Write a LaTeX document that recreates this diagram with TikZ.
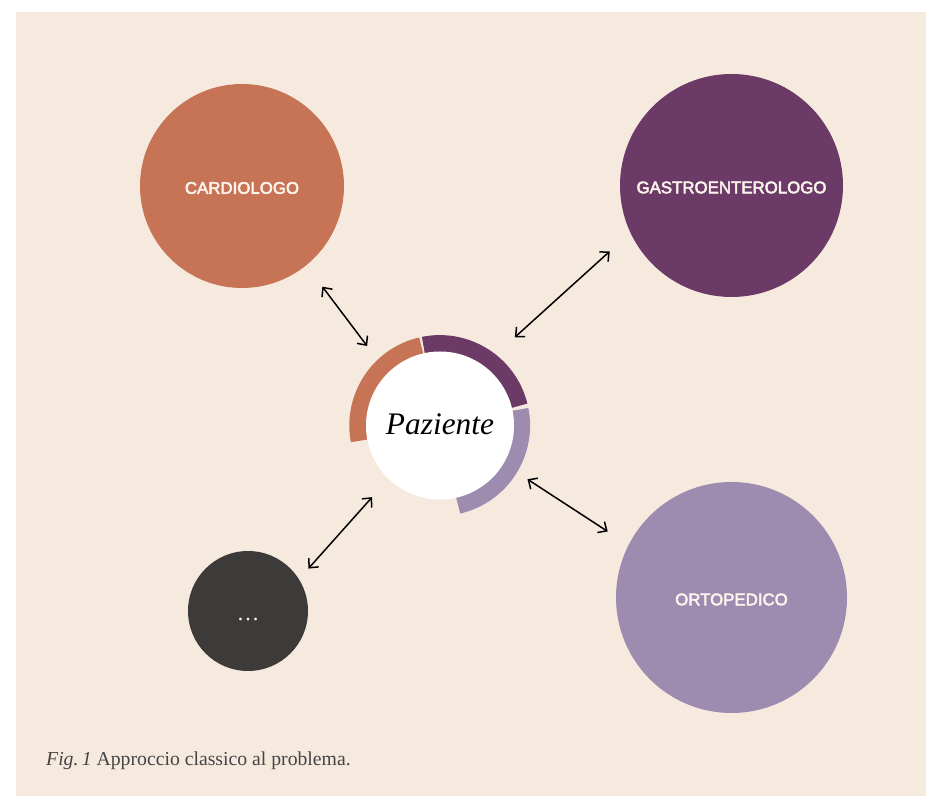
\documentclass[tikz,border=0pt]{standalone}
\usepackage{fontspec}
\usetikzlibrary{arrows.meta}
\setmainfont{Liberation Serif}
\newfontfamily\labfont[FakeBold=3]{Liberation Sans}
\newfontfamily\dotfont[LetterSpace=11.5,FakeBold=2]{Liberation Sans}
\definecolor{panelc}{HTML}{F6EADF}
\definecolor{cardc}{HTML}{C67455}
\definecolor{gastroc}{HTML}{6B3A66}
\definecolor{ortoc}{HTML}{9E8CB0}
\definecolor{darkc}{HTML}{3C3B39}
\definecolor{capc}{HTML}{444444}
\definecolor{labc}{HTML}{FBF3EC}
\tikzset{
  x=1bp,y=1bp,
  spec/.style={circle,inner sep=0pt,outer sep=0pt,text=labc,font=\labfont\fontsize{16.9}{20}\selectfont},
  link/.style={draw=black,line width=1.5bp,{Straight Barb[length=7bp,width=13bp]}-{Straight Barb[length=7bp,width=13bp]}},
  ringarc/.style={line width=17bp,line cap=butt}
}
\begin{document}
\begin{tikzpicture}
\useasboundingbox (0,0) rectangle (926,796);
\fill[panelc] (16,0) rectangle (926,784);
\node[spec,fill=cardc,minimum size=204bp] (card) at (242,610) {};
\node[spec] (cardlabel) at (242,608) {CARDIOLOGO};
\node[spec,fill=gastroc,minimum size=223bp] (gastro) at (731.5,610.5) {};
\node[spec] (gastrolabel) at (731.5,608.5) {GASTROENTEROLOGO};
\node[spec,fill=ortoc,minimum size=231bp] (orto) at (731.5,198.5) {};
\node[spec] (ortolabel) at (731.5,196.5) {ORTOPEDICO};
\node[spec,fill=darkc,minimum size=120bp] (dots) at (248,185) {};
\node[spec,font=\dotfont\fontsize{19}{20}\selectfont] (dotslabel) at (248,177) {...};
\draw[ringarc,cardc] (439.7,370.5) ++(190.8:81.9) arc[start angle=190.8,end angle=103.0,radius=81.9];
\draw[ringarc,gastroc] (439.7,370.5) ++(101.5:81.9) arc[start angle=101.5,end angle=13.9,radius=81.9];
\draw[ringarc,ortoc] (439.7,370.5) ++(11.3:81.9) arc[start angle=11.3,end angle=-77,radius=81.9];
\node[circle,fill=white,inner sep=0pt,outer sep=0pt,minimum size=148bp] (paz) at (440,370.5) {};
\node[inner sep=0pt,font=\fontsize{31.5}{34}\selectfont\itshape,text=black] (pazlabel) at (440,372) {Paziente};
\draw[link,shorten <=26.8bp,shorten >=34.1bp] (card.-51.3) -- (paz.135);
\draw[link,shorten <=42.3bp,shorten >=27.9bp] (paz.54.8) -- (gastro.205.5);
\draw[link,shorten <=28.7bp,shorten >=24.9bp] (paz.-31.5) -- (orto.153.9);
\draw[link,shorten <=24.7bp,shorten >=14.2bp] (paz.226.7) -- (dots.32.8);
\node[anchor=base west,inner sep=0pt,text=capc,font=\fontsize{19.8}{22}\selectfont] (cap) at (46,30) {\textit{Fig.\,1} Approccio classico al problema.};
\end{tikzpicture}
\end{document}
